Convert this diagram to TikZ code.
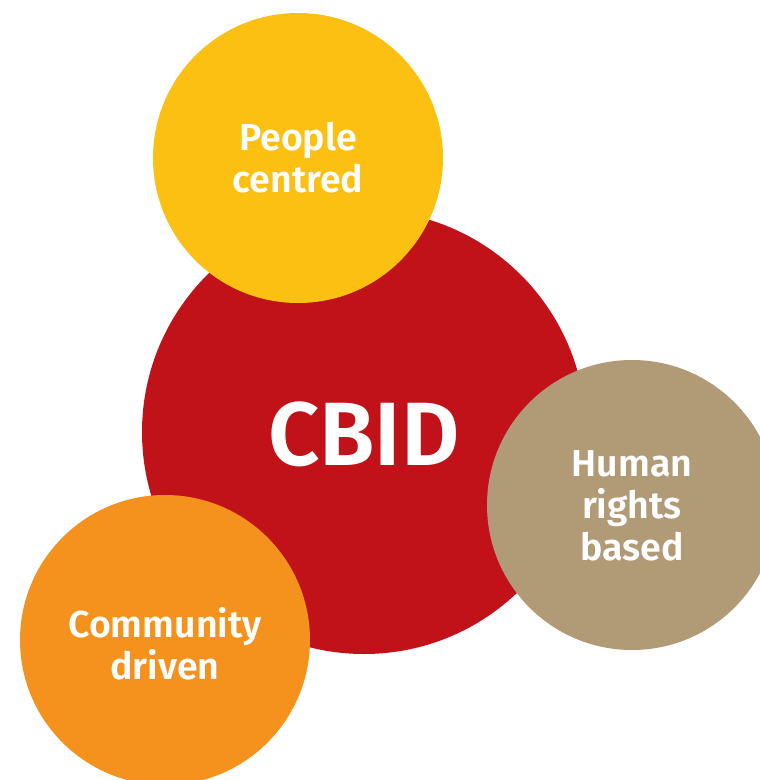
\documentclass[tikz,border=0pt]{standalone}
\usepackage{fontspec}
\setmainfont{Fira Sans}[BoldFont={Fira Sans SemiBold}]
\definecolor{cbidred}{HTML}{C1121A}
\definecolor{cbidyellow}{HTML}{FCC012}
\definecolor{cbidtan}{HTML}{B19B77}
\definecolor{cbidorange}{HTML}{F5921E}
\begin{document}
\begin{tikzpicture}[x=1pt,y=-1pt,
  bubble/.style={circle,inner sep=0pt,minimum size=290pt},
  lbl/.style={text=white,font=\fontsize{37.5}{42}\selectfont\bfseries,align=center}]
\useasboundingbox (0,0) rectangle (760,780);
\clip (0,0) rectangle (760,780);
\node[bubble,fill=cbidred,minimum size=444pt] (cbid) at (364,432) {};
\node[bubble,fill=cbidyellow] (people) at (298,158) {};
\node[bubble,fill=cbidtan] (human) at (632,505) {};
\node[bubble,fill=cbidorange] (community) at (165,640) {};
\node[lbl,font=\fontsize{90}{100}\selectfont\bfseries] (t0) at (364,434) {CBID};
\node[lbl] (t1) at (298,158) {People\\centred};
\node[lbl] (t2) at (632,506) {Human\\rights\\based};
\node[lbl] (t3) at (165,644) {Community\\driven};
\end{tikzpicture}
\end{document}
